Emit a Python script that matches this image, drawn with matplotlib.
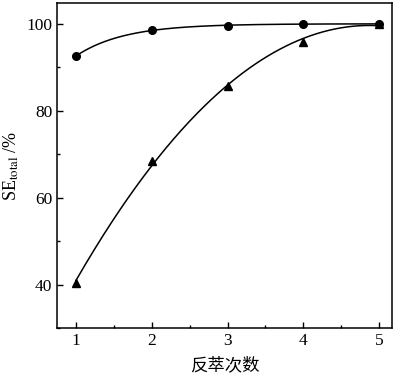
import numpy as np
import matplotlib
matplotlib.use("Agg")
import matplotlib.pyplot as plt
from matplotlib.ticker import MultipleLocator

x = np.array([1, 2, 3, 4, 5])
se_circle = np.array([92.6, 98.5, 99.6, 100.0, 100.0])
se_triangle = np.array([40.4, 68.5, 85.6, 95.9, 100.0])
xticks = [1, 2, 3, 4, 5]
yticks = [40, 60, 80, 100]
xlabel = "反萃次数"


def exp_fit(xs, ys):
    best = None
    for k in np.linspace(0.05, 3.0, 600):
        M = np.column_stack([np.ones_like(xs, dtype=float), -np.exp(-k * xs)])
        coef, *_ = np.linalg.lstsq(M, ys, rcond=None)
        err = np.sum((M @ coef - ys) ** 2)
        if best is None or err < best[0]:
            best = (err, k, coef)
    _, k, (A, B) = best
    return lambda t: A - B * np.exp(-k * t)


plt.rcParams['font.family'] = ['Liberation Serif', 'DejaVu Serif']
plt.rcParams['mathtext.fontset'] = 'stix'
fig = plt.figure(figsize=(4.0, 3.76), dpi=100)
ax = fig.add_axes([57 / 400, 1 - 328 / 376, (392 - 57) / 400, (328 - 3) / 376])

xs = np.linspace(1, 5, 200)
f1 = exp_fit(x.astype(float), se_circle)
p2 = np.polyfit(x, se_triangle, 2)
ax.plot(xs, f1(xs), color='black', lw=1.1)
ax.plot(xs, np.polyval(p2, xs), color='black', lw=1.1)
ax.plot(x, se_circle, 'o', color='black', ms=5.5, ls='none')
ax.plot(x, se_triangle, '^', color='black', ms=5.5, ls='none')

ax.set_xlim(0.75, 5.17)
ax.set_ylim(30, 104.8)
ax.set_xticks(xticks)
ax.set_yticks(yticks)
ax.xaxis.set_minor_locator(MultipleLocator(0.5))
ax.yaxis.set_minor_locator(MultipleLocator(10))
ax.tick_params(which='both', direction='in', top=False, right=False,
               labelsize=12.5, width=1)
ax.tick_params(which='major', length=4)
ax.tick_params(which='minor', length=2.5)
for s in ax.spines.values():
    s.set_linewidth(1.1)

ax.set_xlabel(xlabel, family=['Noto Sans CJK SC'], fontsize=12.5, labelpad=5)
ax.set_ylabel(r'SE$_{\mathrm{total}}$ /%', fontsize=13, labelpad=4)

fig.savefig('out.png', dpi=100)
